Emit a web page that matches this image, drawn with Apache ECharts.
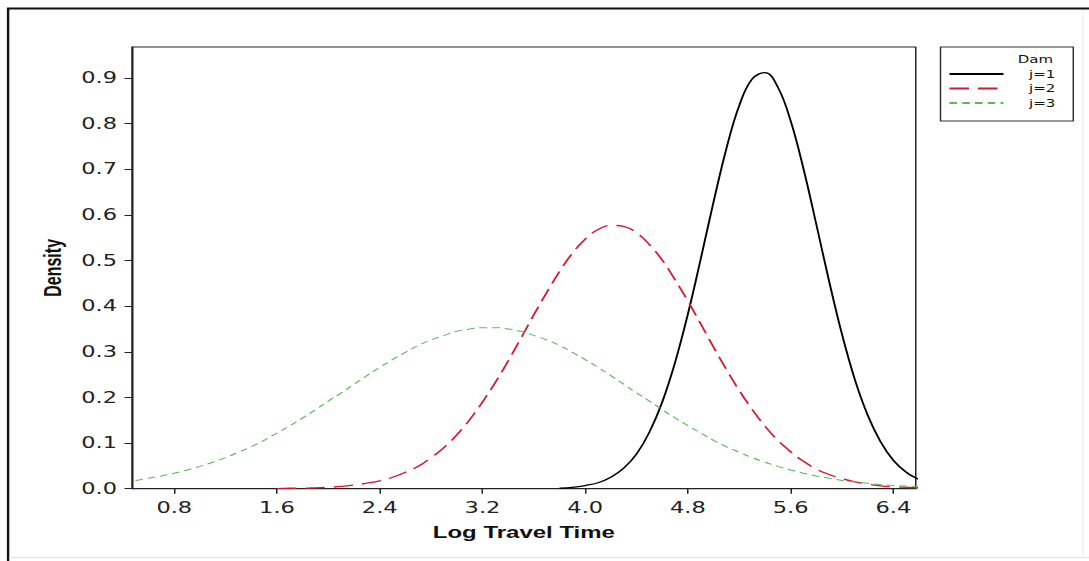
<!DOCTYPE html>
<html>
<head>
<meta charset="utf-8">
<script src="https://cdn.jsdelivr.net/npm/echarts@6/dist/echarts.min.js"></script>
<style>
  html, body { margin: 0; padding: 0; background: #fff; overflow: hidden; }
  #wrap { width: 1089px; height: 561px; overflow: hidden; }
  #c { width: 726px; height: 561px; transform: scaleX(1.5); transform-origin: 0 0; }
</style>
</head>
<body>
<div id="wrap"><div id="c"></div></div>
<script>
// ---- data ----
const seriesNames = ['j=1', 'j=2', 'j=3'];
const legendTitle = 'Dam';
const xTicks = [0.8, 1.6, 2.4, 3.2, 4.0, 4.8, 5.6, 6.4];
const yTicks = [0, 0.1, 0.2, 0.3, 0.4, 0.5, 0.6, 0.7, 0.8, 0.9];

const j1X = [3.8,3.9,4.0,4.1,4.2,4.3,4.4,4.5,4.6,4.7,4.8,4.9,5.0,5.1,5.2,5.3,5.4,5.5,5.6,5.7,5.8,5.9,6.0,6.1,6.2,6.3,6.4,6.5,6.6];
const j1Y = [0.001,0.003,0.007,0.013,0.025,0.045,0.076,0.124,0.190,0.277,0.383,0.504,0.629,0.746,0.840,0.898,0.912,0.880,0.806,0.701,0.579,0.454,0.338,0.239,0.161,0.103,0.062,0.036,0.020];

const j2X = [1.6,1.7,1.8,1.9,2.0,2.1,2.2,2.3,2.4,2.5,2.6,2.7,2.8,2.9,3.0,3.1,3.2,3.3,3.4,3.5,3.6,3.7,3.8,3.9,4.0,4.1,4.2,4.3,4.4,4.5,4.6,4.7,4.8,4.9,5.0,5.1,5.2,5.3,5.4,5.5,5.6,5.7,5.8,5.9,6.0,6.1,6.2,6.3,6.4,6.5,6.6];
const j2Y = [0.000,0.001,0.001,0.002,0.003,0.005,0.008,0.012,0.017,0.025,0.036,0.049,0.068,0.090,0.118,0.151,0.190,0.233,0.280,0.330,0.381,0.430,0.476,0.516,0.547,0.568,0.577,0.575,0.561,0.535,0.501,0.458,0.411,0.361,0.310,0.261,0.215,0.174,0.137,0.106,0.081,0.060,0.043,0.031,0.022,0.015,0.010,0.006,0.004,0.003,0.002];

const j3X = [0.4,0.5,0.6,0.7,0.8,0.9,1.0,1.1,1.2,1.3,1.4,1.5,1.6,1.7,1.8,1.9,2.0,2.1,2.2,2.3,2.4,2.5,2.6,2.7,2.8,2.9,3.0,3.1,3.2,3.3,3.4,3.5,3.6,3.7,3.8,3.9,4.0,4.1,4.2,4.3,4.4,4.5,4.6,4.7,4.8,4.9,5.0,5.1,5.2,5.3,5.4,5.5,5.6,5.7,5.8,5.9,6.0,6.1,6.2,6.3,6.4,6.5,6.6];
const j3Y = [0.015,0.018,0.023,0.028,0.034,0.041,0.049,0.058,0.068,0.080,0.092,0.106,0.122,0.138,0.155,0.173,0.192,0.210,0.229,0.248,0.266,0.283,0.299,0.314,0.326,0.336,0.345,0.350,0.353,0.353,0.350,0.345,0.336,0.326,0.314,0.299,0.283,0.266,0.248,0.229,0.210,0.192,0.173,0.155,0.138,0.122,0.106,0.092,0.080,0.068,0.058,0.049,0.041,0.034,0.028,0.023,0.018,0.015,0.012,0.009,0.007,0.006,0.004];

// ---- chart ----
const pairs = (xs, ys) => xs.map((x, i) => [x, ys[i]]);
const chart = echarts.init(document.getElementById('c'), null, { renderer: 'svg' });
const tickFont = { fontFamily: 'DejaVu Sans', fontSize: 15, color: '#222' };
const titleFont = { fontFamily: 'Liberation Sans', fontWeight: 'bold', fontSize: 16, color: '#111' };

chart.setOption({
  animation: false,
  backgroundColor: '#fff',
  grid: {
    left: 88, right: 115.5, top: 47, bottom: 72.3,
    show: true, borderColor: '#222', borderWidth: 1,
    containLabel: false, outerBoundsMode: 'none'
  },
  legend: {
    orient: 'vertical', left: 627, top: 47,
    padding: [22, 12, 13, 5],
    itemWidth: 36, itemHeight: 10, itemGap: 4.5,
    borderColor: '#333', borderWidth: 1,
    selectedMode: false,
    itemStyle: { opacity: 0 },
    textStyle: { fontFamily: 'DejaVu Sans', fontSize: 10, color: '#111', padding: [0, 0, 0, 12] },
    data: seriesNames
  },
  xAxis: {
    type: 'value', min: 0.471, max: 6.574,
    axisLine: { show: true, lineStyle: { color: '#222', width: 1 } },
    axisTick: { show: true, customValues: xTicks, length: 5, lineStyle: { color: '#222' } },
    axisLabel: Object.assign({ customValues: xTicks, margin: 12, formatter: v => v.toFixed(1) }, tickFont),
    splitLine: { show: false },
    name: 'Log Travel Time', nameLocation: 'middle', nameGap: 36, nameTextStyle: titleFont
  },
  yAxis: {
    type: 'value', min: 0, max: 0.968,
    axisLine: { show: true, lineStyle: { color: '#222', width: 1 } },
    axisTick: { show: true, customValues: yTicks, length: 5, lineStyle: { color: '#222' } },
    axisLabel: Object.assign({ customValues: yTicks, margin: 10, formatter: v => v.toFixed(1) }, tickFont),
    splitLine: { show: false },
    name: 'Density', nameLocation: 'middle', nameRotate: 90, nameGap: 42, nameTextStyle: titleFont
  },
  series: [
    { name: seriesNames[0], type: 'line', data: pairs(j1X, j1Y), symbol: 'none', smooth: 0.4,
      color: '#000', lineStyle: { color: '#000', width: 1.3, type: 'solid' } },
    { name: seriesNames[1], type: 'line', data: pairs(j2X, j2Y), symbol: 'none', smooth: 0.4,
      color: '#d8182e', lineStyle: { color: '#d8182e', width: 1.3, type: [13, 6] } },
    { name: seriesNames[2], type: 'line', data: pairs(j3X, j3Y), symbol: 'none', smooth: 0.4,
      color: '#5cb85c', lineStyle: { color: '#5cb85c', width: 1, type: [5, 3.5] } }
  ],
  graphic: [
    { type: 'line', shape: { x1: 4.7, y1: 8.5, x2: 730, y2: 8.5 }, style: { stroke: '#111', lineWidth: 2 }, z: 100 },
    { type: 'line', shape: { x1: 5.4, y1: 8, x2: 5.4, y2: 561 }, style: { stroke: '#111', lineWidth: 1.6 }, z: 100 },
    { type: 'line', shape: { x1: 6, y1: 557.5, x2: 730, y2: 557.5 }, style: { stroke: '#e2e2e2', lineWidth: 1 }, z: 100 },
    { type: 'line', shape: { x1: 722, y1: 10, x2: 722, y2: 557 }, style: { stroke: '#e8e8e8', lineWidth: 0.7 }, z: 100 },
    { type: 'text', x: 702, y: 59, style: { text: legendTitle, align: 'right', verticalAlign: 'middle',
      fontFamily: 'DejaVu Sans', fontSize: 10, fill: '#111' }, z: 100 }
  ]
});
</script>
</body>
</html>
